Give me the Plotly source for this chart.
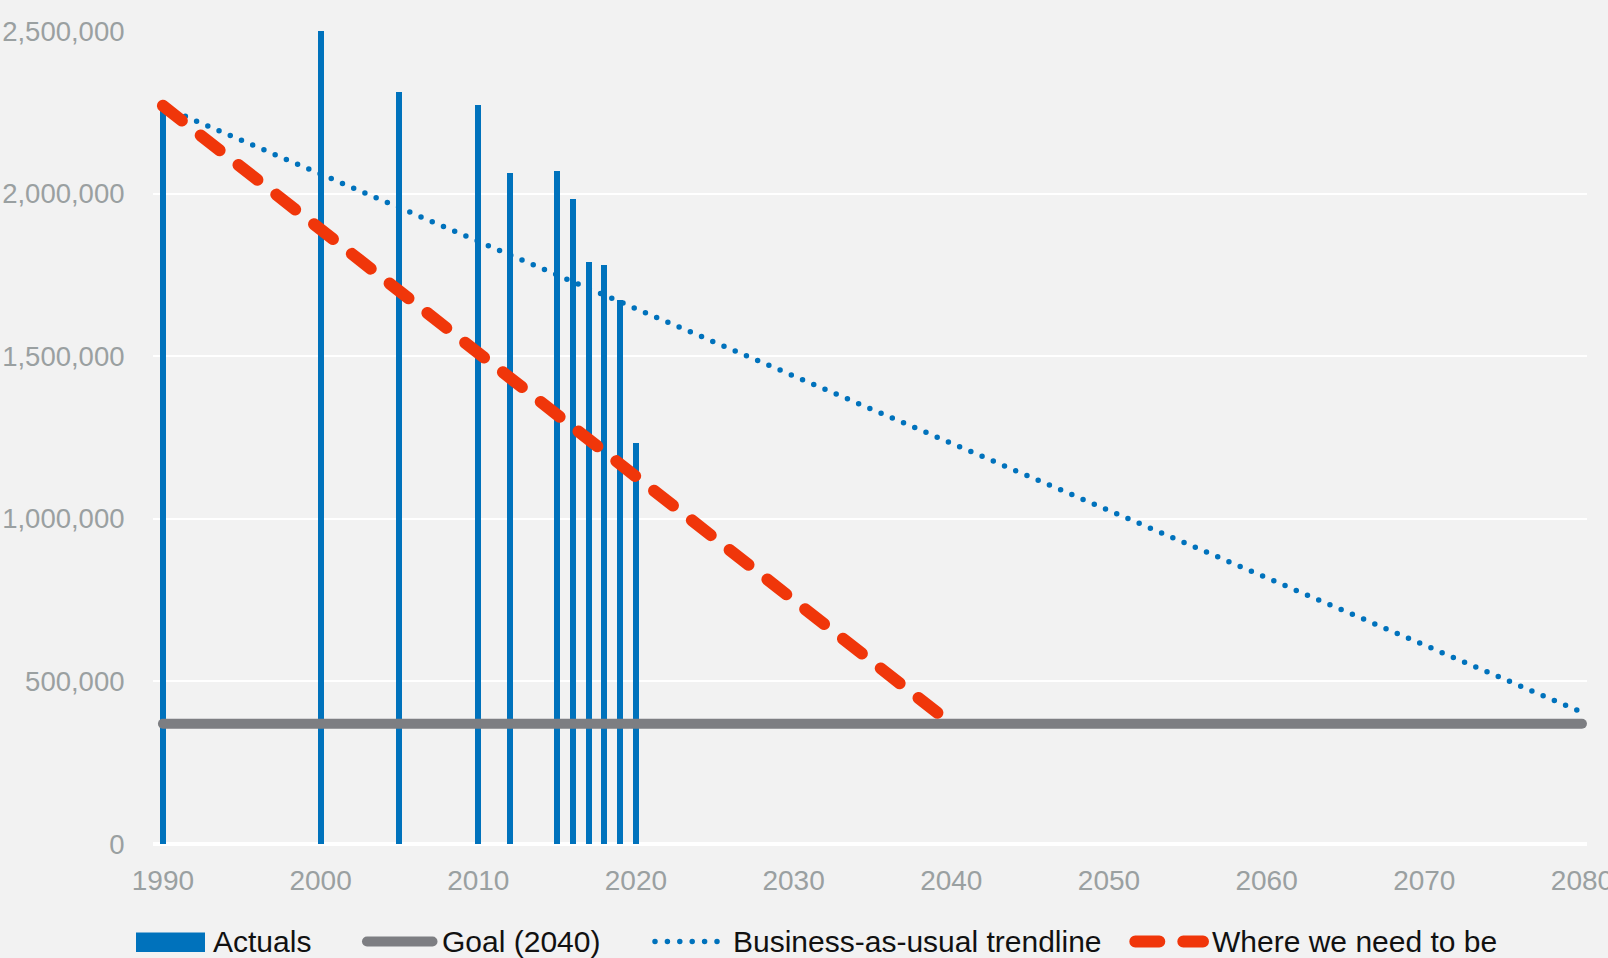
import plotly.graph_objects as go

# Emissions actuals by year
years = [1990, 2000, 2005, 2010, 2012, 2015, 2016, 2017, 2018, 2019, 2020]
actuals = [2265000, 2500000, 2312000, 2271000, 2063000, 2071000, 1983000,
           1790000, 1781000, 1673000, 1233000]

# Goal level (2040)
goal_years = [1990, 2080]
goal_values = [370000, 370000]

# Business-as-usual linear trend
trend_years = [1990, 2080]
trend_values = [2267000, 405000]

# Required reduction path
target_years = [1990, 2040]
target_values = [2270000, 370000]

x_ticks = [1990, 2000, 2010, 2020, 2030, 2040, 2050, 2060, 2070, 2080]
y_ticks = [0, 500000, 1000000, 1500000, 2000000, 2500000]

BLUE = "#0072bc"
GRAY = "#7d7e82"
RED = "#f0360a"
BG = "#f2f2f2"
TICK = "#9aa0a1"

W, H = 1608, 958
ML, MR, MT, MB = 153, 21, 31, 114
PW, PH = W - ML - MR, H - MT - MB


def px_x(p):
    return (p - ML) / PW


def px_y(p):
    return (H - MB - p) / PH


fig = go.Figure()
fig.add_trace(go.Bar(x=years, y=actuals, width=0.38, marker=dict(color=BLUE, line=dict(width=0)),
                     name="Actuals", showlegend=False))
fig.add_trace(go.Scatter(x=goal_years, y=goal_values, mode="lines",
                         line=dict(color=GRAY, width=10), name="Goal (2040)", showlegend=False))
fig.add_trace(go.Scatter(x=trend_years, y=trend_values, mode="lines",
                         line=dict(color=BLUE, width=5.5, dash="0px,12.2px"),
                         name="Business-as-usual trendline", showlegend=False))
fig.add_trace(go.Scatter(x=target_years, y=target_values, mode="lines",
                         line=dict(color=RED, width=12, dash="24px,24px"),
                         name="Where we need to be", showlegend=False))

# Legend row along the bottom
ly = 941.5
shapes = [
    dict(type="rect", xref="paper", yref="paper", x0=px_x(136), x1=px_x(205),
         y0=px_y(952), y1=px_y(932.5), fillcolor=BLUE, line=dict(width=0)),
    dict(type="line", xref="paper", yref="paper", x0=px_x(367), x1=px_x(432.5),
         y0=px_y(ly), y1=px_y(ly), line=dict(color=GRAY, width=10)),
    dict(type="line", xref="paper", yref="paper", x0=px_x(655), x1=px_x(717.5),
         y0=px_y(ly), y1=px_y(ly), line=dict(color=BLUE, width=5.5, dash="0px,12.4px")),
    dict(type="line", xref="paper", yref="paper", x0=px_x(1135.3), x1=px_x(1203),
         y0=px_y(ly), y1=px_y(ly), line=dict(color=RED, width=12, dash="24px,24px")),
]
labels = [("Actuals", 211), ("Goal (2040)", 440), ("Business-as-usual trendline", 731),
          ("Where we need to be", 1210)]
annotations = [
    dict(text=t, x=px_x(xp), y=px_y(ly), xref="paper", yref="paper", xanchor="left",
         yanchor="middle", showarrow=False, font=dict(size=30, color="#111111"))
    for t, xp in labels
]

fig.update_layout(
    width=W, height=H,
    margin=dict(l=ML, r=MR, t=MT, b=MB, pad=0),
    paper_bgcolor=BG, plot_bgcolor=BG,
    font=dict(family="Liberation Sans, Arial, sans-serif", color=TICK, size=28),
    showlegend=False,
    shapes=shapes, annotations=annotations,
    bargap=0,
)
fig.update_xaxes(range=[1989.37, 2080.32], tickvals=x_ticks, ticktext=[str(v) for v in x_ticks],
                 showgrid=False, zeroline=False, showline=False,
                 ticks="outside", ticklen=11, tickcolor="rgba(0,0,0,0)",
                 ticklabeloverflow="allow",
                 tickfont=dict(size=28, color=TICK), automargin=False)
fig.update_yaxes(range=[0, 2500000], tickvals=y_ticks, tickformat=",",
                 showgrid=True, gridcolor="#ffffff", gridwidth=2,
                 zeroline=True, zerolinecolor="#ffffff", zerolinewidth=4,
                 showline=False, ticks="outside", ticklen=22, tickcolor="rgba(0,0,0,0)",
                 ticklabeloverflow="allow",
                 tickfont=dict(size=27.5, color=TICK), automargin=False)

round_caps = """
var gd = document.getElementById('{plot_id}');
function roundCaps() {
  gd.querySelectorAll('.scatterlayer path.js-line, .shapelayer path').forEach(function (p) {
    p.style.strokeLinecap = 'round';
  });
}
roundCaps();
gd.on('plotly_afterplot', roundCaps);
"""

fig.write_html("out.html", post_script=round_caps, config={"displayModeBar": False})
